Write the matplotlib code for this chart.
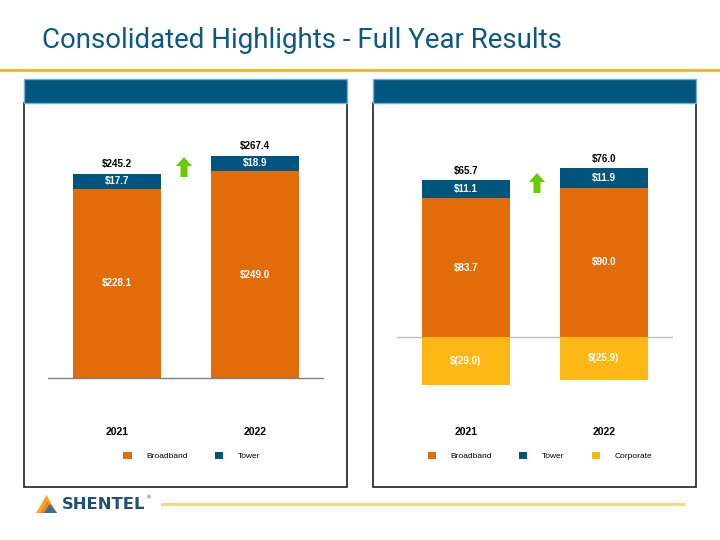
import matplotlib
matplotlib.use("Agg")
from matplotlib import pyplot as plt
from matplotlib.patches import Rectangle, Polygon, Patch
from matplotlib import transforms
import numpy as np

# data
years = ["2021", "2022"]
rev_broadband = [228.1, 249.0]
rev_tower = [17.7, 18.9]
rev_total_labels = ["$245.2", "$267.4"]

ebitda_broadband = [83.7, 90.0]
ebitda_tower = [11.1, 11.9]
ebitda_corporate = [-29.0, -25.9]
ebitda_total_labels = ["$65.7", "$76.0"]

ORANGE = "#E36C0A"
BLUE = "#00557F"
GOLD = "#FDB813"
TITLE_BLUE = "#0B5788"
W, H = 720, 540

plt.rcParams["font.family"] = ["Liberation Sans", "DejaVu Sans"]

fig = plt.figure(figsize=(W / 100, H / 100), dpi=100)

# background axes in pixel coordinates for the slide decorations
bg = fig.add_axes([0, 0, 1, 1])
bg.set_xlim(0, W)
bg.set_ylim(H, 0)
bg.axis("off")

bg.text(42, 40, "Consolidated Highlights - Full Year Results", fontsize=19.9,
        color=TITLE_BLUE, va="center", ha="left", family="Roboto")
bg.plot([0, W], [70, 70], color="#F5B21B", lw=2)

for x0 in (24, 373):
    bg.add_patch(Rectangle((x0, 103), 323, 384, facecolor="white",
                           edgecolor="#202020", lw=1.2))
    bg.add_patch(Rectangle((x0, 79), 323, 24, facecolor="#00567F",
                           edgecolor="#6FB1DA", lw=1))

# green "up" arrows between bars
def up_arrow(cx, top):
    pts = [(cx - 8, top + 9), (cx, top), (cx + 8, top + 9), (cx + 3.5, top + 9),
           (cx + 3.5, top + 20), (cx - 3.5, top + 20), (cx - 3.5, top + 9)]
    bg.add_patch(Polygon(pts, closed=True, facecolor="#66CC00", edgecolor="none"))

up_arrow(184, 157)
up_arrow(537, 173)

# footer logo
bg.add_patch(Polygon([(36, 513), (46.5, 495), (57, 513)], closed=True,
                     facecolor="#F7A823", edgecolor="none"))
bg.add_patch(Polygon([(40, 513), (47, 501), (57, 513)], closed=True,
                     facecolor="#E7892A", edgecolor="none"))
bg.add_patch(Polygon([(44, 513), (50, 504), (57, 513)], closed=True,
                     facecolor="#3C6E96", edgecolor="none"))
bg.text(62, 504.5, "SHENTEL", fontsize=11.8, fontweight="bold", color="#1F5177",
        va="center", ha="left", family="DejaVu Sans")
bg.text(147, 498, "\u00ae", fontsize=4, color="#1F5177", va="center", ha="left")
bg.plot([162, 683], [504, 504], color="#FDD57E", lw=2.2)


def chart_axes(left, right, baseline, scale, top=120, bottom=420):
    ax = fig.add_axes([left / W, 1 - bottom / H, (right - left) / W, (bottom - top) / H])
    ax.set_xlim(-0.5, 1.5)
    ax.set_ylim(-(bottom - baseline) / scale, (baseline - top) / scale)
    ax.patch.set_alpha(0)
    ax.axis("off")
    return ax


def label_segments(ax, x, bottoms, vals, texts=None):
    for i, (b, v) in enumerate(zip(bottoms, vals)):
        if texts is None:
            t = "$%.1f" % v if v >= 0 else "$(%.1f)" % -v
        else:
            t = texts[i]
        ax.text(x[i], b + v / 2, t, ha="center", va="center", color="white",
                fontsize=7, fontweight="bold")


x = np.arange(len(years))
bw = 88 / 138

# ---- left chart: revenue
ax1 = chart_axes(48, 324, 378, 0.83)
ax1.bar(x, rev_broadband, bw, color=ORANGE)
ax1.bar(x, rev_tower, bw, bottom=rev_broadband, color=BLUE)
ax1.axhline(0, color="#808080", lw=1)
label_segments(ax1, x, [0, 0], rev_broadband)
label_segments(ax1, x, rev_broadband, rev_tower)
for i in x:
    ax1.annotate(rev_total_labels[i], (i, rev_broadband[i] + rev_tower[i]),
                 xytext=(0, 7), textcoords="offset points", ha="center",
                 va="center", fontsize=7, fontweight="bold")

# ---- right chart: adjusted EBITDA
ax2 = chart_axes(397, 673, 337, 1.66)
ax2.bar(x, ebitda_broadband, bw, color=ORANGE)
ax2.bar(x, ebitda_tower, bw, bottom=ebitda_broadband, color=BLUE)
ax2.bar(x, ebitda_corporate, bw, color=GOLD)
ax2.axhline(0, color="#BFBFBF", lw=1, zorder=0)
label_segments(ax2, x, [0, 0], ebitda_broadband)
label_segments(ax2, x, ebitda_broadband, ebitda_tower)
label_segments(ax2, x, [0, 0], ebitda_corporate)
for i in x:
    ax2.annotate(ebitda_total_labels[i], (i, ebitda_broadband[i] + ebitda_tower[i]),
                 xytext=(0, 6.5), textcoords="offset points", ha="center",
                 va="center", fontsize=7, fontweight="bold")

# year labels and legends
panels = [(ax1, ["Broadband", "Tower"], [ORANGE, BLUE], 192),
          (ax2, ["Broadband", "Tower", "Corporate"], [ORANGE, BLUE, GOLD], 540)]
for ax, names, colors, cx in panels:
    tr = transforms.blended_transform_factory(ax.transData, fig.transFigure)
    for i, yr in enumerate(years):
        ax.text(i, 1 - 432 / H, yr, transform=tr, ha="center", va="center",
                fontsize=7.5, fontweight="bold")
    handles = [Patch(facecolor=c, edgecolor="none") for c in colors]
    fig.legend(handles, names, loc="center", bbox_to_anchor=(cx / W, 1 - 456 / H),
               ncol=len(names), frameon=False, fontsize=6, handlelength=1.0,
               handleheight=1.0, handletextpad=1.8, columnspacing=3.2)

plt.savefig("out.png", dpi=100)
